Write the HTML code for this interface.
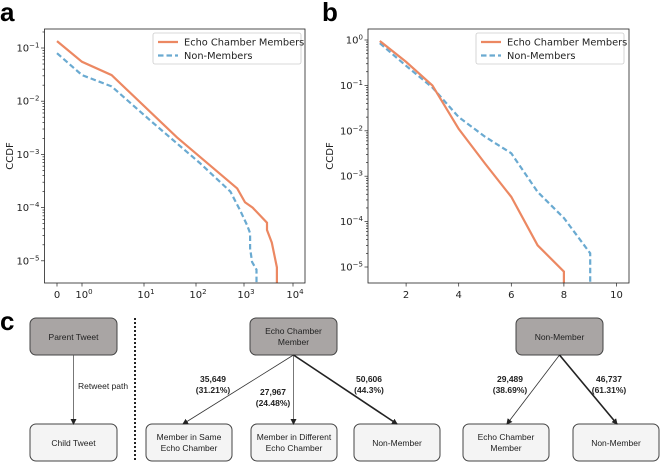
<!DOCTYPE html>
<html><head><meta charset="utf-8">
<style>
body{margin:0;background:#fff;}
svg{display:block;font-family:"DejaVu Sans","Liberation Sans",sans-serif;}
.c{font-family:"Liberation Sans",sans-serif;}
</style></head>
<body>
<svg id="fig" width="660" height="462" viewBox="0 0 660 462" xmlns="http://www.w3.org/2000/svg">
<text x="0" y="21" font-size="26" font-weight="bold" font-family="Liberation Sans">a</text>
<text x="322" y="21" font-size="26" font-weight="bold" font-family="Liberation Sans">b</text>
<g id="chartA"></g>
<g id="chartB"></g>
<g id="panelC" class="c">
<text x="0" y="330" font-size="26" font-weight="bold" font-family="Liberation Sans">c</text>
<defs><marker id="ah" markerWidth="6" markerHeight="6" refX="5" refY="3" orient="auto" markerUnits="userSpaceOnUse"><path d="M0,0 L6,3 L0,6 z" fill="#222"/></marker></defs>
<line x1="135" y1="318" x2="135" y2="462" stroke="#222" stroke-width="2" stroke-dasharray="2,2"/>
<g font-size="8.5" text-anchor="middle" fill="#222">
<rect x="30" y="318" width="87" height="37" rx="6" fill="#a9a5a4" stroke="#444"/>
<text x="73.5" y="340">Parent Tweet</text>
<rect x="30" y="424" width="87" height="37" rx="6" fill="#f4f4f4" stroke="#444"/>
<text x="73.5" y="446">Child Tweet</text>
<line x1="73.5" y1="355" x2="73.5" y2="424" stroke="#555" stroke-width="0.8" marker-end="url(#ah)"/>
<text x="78" y="389" text-anchor="start">Retweet path</text>

<rect x="250" y="318" width="87" height="37" rx="6" fill="#a9a5a4" stroke="#444"/>
<text x="293.5" y="334">Echo Chamber</text>
<text x="293.5" y="345">Member</text>
<rect x="146" y="424" width="86" height="37" rx="6" fill="#f4f4f4" stroke="#444"/>
<text x="189" y="440">Member in Same</text>
<text x="189" y="451">Echo Chamber</text>
<rect x="251" y="424" width="86" height="37" rx="6" fill="#f4f4f4" stroke="#444"/>
<text x="294" y="440">Member in Different</text>
<text x="294" y="451">Echo Chamber</text>
<rect x="354" y="424" width="86" height="37" rx="6" fill="#f4f4f4" stroke="#444"/>
<text x="397" y="446">Non-Member</text>
<line x1="293.5" y1="355" x2="183" y2="424" stroke="#333" stroke-width="0.8" marker-end="url(#ah)"/>
<line x1="293.5" y1="355" x2="293.5" y2="424" stroke="#555" stroke-width="0.8" marker-end="url(#ah)"/>
<line x1="293.5" y1="355" x2="397" y2="424" stroke="#222" stroke-width="1.6" marker-end="url(#ah)"/>
<g font-weight="bold">
<text x="213" y="382">35,649</text>
<text x="213" y="393">(31.21%)</text>
<text x="273" y="395">27,967</text>
<text x="273" y="406">(24.48%)</text>
<text x="369" y="382">50,606</text>
<text x="369" y="393">(44.3%)</text>
<text x="510" y="382">29,489</text>
<text x="510" y="393">(38.69%)</text>
<text x="609" y="382">46,737</text>
<text x="609" y="393">(61.31%)</text>
</g>
<rect x="516" y="318" width="87" height="37" rx="6" fill="#a9a5a4" stroke="#444"/>
<text x="559.5" y="340">Non-Member</text>
<rect x="463" y="424" width="86" height="37" rx="6" fill="#f4f4f4" stroke="#444"/>
<text x="506" y="440">Echo Chamber</text>
<text x="506" y="451">Member</text>
<rect x="573" y="424" width="86" height="37" rx="6" fill="#f4f4f4" stroke="#444"/>
<text x="616" y="446">Non-Member</text>
<line x1="559.5" y1="355" x2="507" y2="424" stroke="#333" stroke-width="0.8" marker-end="url(#ah)"/>
<line x1="559.5" y1="355" x2="617" y2="424" stroke="#222" stroke-width="1.6" marker-end="url(#ah)"/>
</g>
</g>
</svg>
<script>
// Panel a data
const aEchoX = [0,1,3,43,720,1050,1500,2950,2950,3700,4700,4700];
const aEchoY = [0.135,0.055,0.031,0.0021,2.3e-4,1.26e-4,1.0e-4,5.2e-5,3.8e-5,2.2e-5,7.5e-6,3.5e-6];
const aNonX = [0,1,3,15,120,520,830,1150,1330,1330,1460,1800,1800];
const aNonY = [0.08,0.031,0.019,3.9e-3,6.9e-4,2e-4,8.9e-5,4.7e-5,3.3e-5,1.7e-5,9.5e-6,6.8e-6,3.5e-6];
const aXTicks = [0,1,10,100,1000,10000];
const aXTickLabels = ["0","10^0","10^1","10^2","10^3","10^4"];
// Panel b data
const bEchoX = [1,2,3,4,5,6,7,8,8];
const bEchoY = [0.95,0.33,0.1,0.011,1.9e-3,3.5e-4,3e-5,7.9e-6,3e-6];
const bNonX = [1,2,3,4,5,6,7,8,9,9];
const bNonY = [0.85,0.27,0.09,0.02,7.4e-3,3.2e-3,4.5e-4,1.2e-4,2e-5,3e-6];
const bXTicks = [2,4,6,8,10];
const yDecades = [-5,-4,-3,-2,-1,0];

const NS="http://www.w3.org/2000/svg";
function mk(parent,tag,attrs){const e=document.createElementNS(NS,tag);for(const k in attrs)e.setAttribute(k,attrs[k]);parent.appendChild(e);return e;}
const ORANGE="#ec8862", BLUE="#6aaad1";

function supText(g,x,y,base,exp,anchor){
  const t=mk(g,'text',{x:x,y:y,'font-size':10,'text-anchor':anchor,fill:'#222'});
  
  
  const s1=mk(t,'tspan',{});s1.textContent=base;
  const s2=mk(t,'tspan',{dy:-4,'font-size':7});s2.textContent=exp;
  return t;
}

function drawChart(g,cfg){
  const {L,R,T,B,xs,ys}=cfg;
  const clipId=cfg.id+'clip';
  const cp=mk(g,'clipPath',{id:clipId});mk(cp,'rect',{x:L,y:T,width:R-L,height:B-T});
  const yMin=cfg.yLogMin, yMax=cfg.yLogMax;
  for(const d of yDecades){
    for(let m=1;m<10;m++){
      const lv=d+Math.log10(m);
      if(lv<yMin||lv>yMax)continue;
      const y=ys(Math.pow(10,lv));
      const tk=mk(g,'line',{x1:L-(m===1?3.5:2),x2:L,y1:y,y2:y,stroke:'#222','stroke-width':0.7});
      
      
      if(m===1) supText(g,L-5,y+3.5,'10','−'.repeat(d<0?1:0)+Math.abs(d),'end');
    }
  }
  cfg.xTicks.forEach((v,i)=>{
    const x=xs(v);
    const tk=mk(g,'line',{x1:x,x2:x,y1:B,y2:B+3.5,stroke:'#222','stroke-width':0.7});
    
    
    const lab=cfg.xLabels[i];
    if(lab.indexOf('^')>=0){const p=lab.split('^');supText(g,x+2,B+15,p[0],p[1],'middle');}
    else{const t=mk(g,'text',{x:x,y:B+15,'font-size':10,'text-anchor':'middle',fill:'#222'});t.textContent=lab;
      
      }
  });
  const series=[[cfg.echoX,cfg.echoY,ORANGE,'',"echo-chamber-line"],[cfg.nonX,cfg.nonY,BLUE,'5.5,3',"non-member-line"]];
  series.slice().reverse().forEach(([X,Y,c,da,nm])=>{
    const d=X.map((v,i)=>(i?'L':'M')+xs(v).toFixed(1)+','+ys(Y[i]).toFixed(1)).join(' ');
    const p=mk(g,'path',{d:d,fill:'none',stroke:c,'stroke-width':2.2,'stroke-dasharray':da,'clip-path':'url(#'+clipId+')'});
    
    
  });
  const fr=mk(g,'rect',{x:L,y:T,width:R-L,height:B-T,fill:'none',stroke:'#222','stroke-width':0.8});
  
  
  const yl=mk(g,'text',{x:0,y:0,'font-size':10,'text-anchor':'middle',fill:'#222',transform:'translate('+cfg.ylx+','+((T+B)/2)+') rotate(-90)'});
  yl.textContent='CCDF';
  
  
  const lg=mk(g,'g',{});
  
  
  mk(lg,'rect',{x:cfg.lgx,y:33,width:148,height:31,rx:2,fill:'#fff',stroke:'#ccc','stroke-width':0.8});
  [['Echo Chamber Members',ORANGE,'',42],['Non-Members',BLUE,'5.5,3',55.5]].forEach(([t,c,da,y])=>{
    const ln=mk(lg,'line',{x1:cfg.lgx+5,x2:cfg.lgx+25,y1:y,y2:y,stroke:c,'stroke-width':2.2,'stroke-dasharray':da});
    
    
    const tx=mk(lg,'text',{x:cfg.lgx+31,y:y+3.5,'font-size':9.8,fill:'#222'});tx.textContent=t;
    
    
  });
}

const aDecPx=[82,144,196,244,293];
function xsA(v){
  if(v<1) return 57+25*v;
  const l=Math.log10(v);const i=Math.min(3,Math.floor(l));
  return aDecPx[i]+(aDecPx[i+1]-aDecPx[i])*(l-i);
}
function ysA(v){return 48+(-1-Math.log10(v))*53.2;}
drawChart(document.getElementById('chartA'),{id:'a',L:44.5,R:305,T:29,B:283,xs:xsA,ys:ysA,
  yLogMin:-5.42,yLogMax:-0.64,xTicks:aXTicks,xLabels:aXTickLabels,
  echoX:aEchoX,echoY:aEchoY,nonX:aNonX,nonY:aNonY,ylx:13,lgx:153});

function xsB(v){return 353.5+26.3*v;}
function ysB(v){return 40+(-Math.log10(v))*45.4;}
drawChart(document.getElementById('chartB'),{id:'b',L:368,R:629,T:29,B:283,xs:xsB,ys:ysB,
  yLogMin:-5.35,yLogMax:0.24,xTicks:bXTicks,xLabels:bXTicks.map(String),
  echoX:bEchoX,echoY:bEchoY,nonX:bNonX,nonY:bNonY,ylx:333,lgx:476});
</script>
</body></html>
